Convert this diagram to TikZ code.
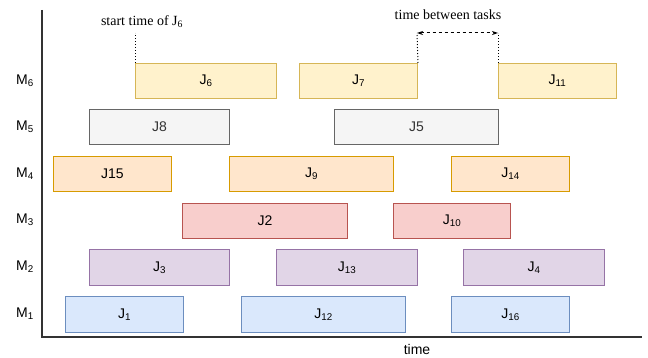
\documentclass[tikz,border=0pt]{standalone}
\usepackage{fontspec}
\setmainfont{Liberation Serif}
\setsansfont{Liberation Sans}
\usetikzlibrary{arrows.meta}
\definecolor{yfill}{HTML}{FFF2CC}\definecolor{ydraw}{HTML}{D6B656}
\definecolor{gfill}{HTML}{F5F5F5}\definecolor{gdraw}{HTML}{666666}
\definecolor{ofill}{HTML}{FFE6CC}\definecolor{odraw}{HTML}{D79B00}
\definecolor{rfill}{HTML}{F8CECC}\definecolor{rdraw}{HTML}{B85450}
\definecolor{pfill}{HTML}{E1D5E7}\definecolor{pdraw}{HTML}{9673A6}
\definecolor{bfill}{HTML}{DAE8FC}\definecolor{bdraw}{HTML}{6C8EBF}
\definecolor{axiscol}{HTML}{333333}
\tikzset{
  job/.style={rectangle, inner sep=0pt, anchor=north west, line width=1pt,
    font=\sffamily\fontsize{14}{16}\selectfont, text=black},
  jy/.style={job, fill=yfill, draw=ydraw},
  jg/.style={job, fill=gfill, draw=gdraw, text=axiscol},
  jo/.style={job, fill=ofill, draw=odraw},
  jr/.style={job, fill=rfill, draw=rdraw},
  jp/.style={job, fill=pfill, draw=pdraw},
  jb/.style={job, fill=bfill, draw=bdraw},
  mlab/.style={font=\sffamily\fontsize{14}{16}\selectfont, inner sep=0pt},
  note/.style={font=\fontsize{14}{16}\selectfont, inner sep=0pt},
  guide/.style={dotted, line width=1pt, black},
}
\begin{document}
\begin{tikzpicture}[x=1pt,y=-1pt]
\useasboundingbox (0,0) rectangle (648,358);
% axes
\coordinate (ytop) at (42,10);
\coordinate (orig) at (42,337);
\coordinate (xend) at (642,337);
\draw[axiscol, line width=1.5pt] (ytop) -- (orig) -- (xend);
\node[mlab] (time) at (417,349) {time};
% machine labels
\node[mlab] (m6) at (25,81) {M\textsubscript{6}};
\node[mlab] (m5) at (25,127) {M\textsubscript{5}};
\node[mlab] (m4) at (25,174) {M\textsubscript{4}};
\node[mlab] (m3) at (25,220) {M\textsubscript{3}};
\node[mlab] (m2) at (25,267) {M\textsubscript{2}};
\node[mlab] (m1) at (25,314) {M\textsubscript{1}};
% M6
\node[jy, minimum width=141pt, minimum height=35pt] (j6) at (135,63) {J\textsubscript{6}};
\node[jy, minimum width=118pt, minimum height=35pt] (j7) at (299,63) {J\textsubscript{7}};
\node[jy, minimum width=118pt, minimum height=35pt] (j11) at (498,63) {J\textsubscript{11}};
% M5
\node[jg, minimum width=140pt, minimum height=35pt] (j8) at (89,109) {J8};
\node[jg, minimum width=164pt, minimum height=35pt] (j5) at (334,109) {J5};
% M4
\node[jo, minimum width=118pt, minimum height=35pt] (j15) at (53,156) {J15};
\node[jo, minimum width=164pt, minimum height=35pt] (j9) at (229,156) {J\textsubscript{9}};
\node[jo, minimum width=118pt, minimum height=35pt] (j14) at (451,156) {J\textsubscript{14}};
% M3
\node[jr, minimum width=165pt, minimum height=35pt] (j2) at (182,203) {J2};
\node[jr, minimum width=117pt, minimum height=35pt] (j10) at (393,203) {J\textsubscript{10}};
% M2
\node[jp, minimum width=140pt, minimum height=36pt] (j3) at (89,249) {J\textsubscript{3}};
\node[jp, minimum width=141pt, minimum height=36pt] (j13) at (276,249) {J\textsubscript{13}};
\node[jp, minimum width=141pt, minimum height=36pt] (j4) at (463,249) {J\textsubscript{4}};
% M1
\node[jb, minimum width=118pt, minimum height=36pt] (j1) at (65,296) {J\textsubscript{1}};
\node[jb, minimum width=164pt, minimum height=36pt] (j12) at (241,296) {J\textsubscript{12}};
\node[jb, minimum width=118pt, minimum height=36pt] (j16) at (451,296) {J\textsubscript{16}};
% start time annotation
\node[note] (stlab) at (142,22) {start time of J\textsubscript{6}};
\coordinate (st) at (135,33);
\draw[guide] (j6.north west) -- (st);
% time between tasks
\node[note] (tblab) at (448,15) {time between tasks};
\coordinate (ta) at (417,33);
\coordinate (tb) at (498,33);
\draw[guide] (j7.north east) -- (ta);
\draw[guide] (j11.north west) -- (tb);
\draw[dashed, line width=1pt, {Stealth[length=6pt,width=4pt]}-{Stealth[length=6pt,width=4pt]}] (ta) -- (tb);
\end{tikzpicture}
\end{document}
